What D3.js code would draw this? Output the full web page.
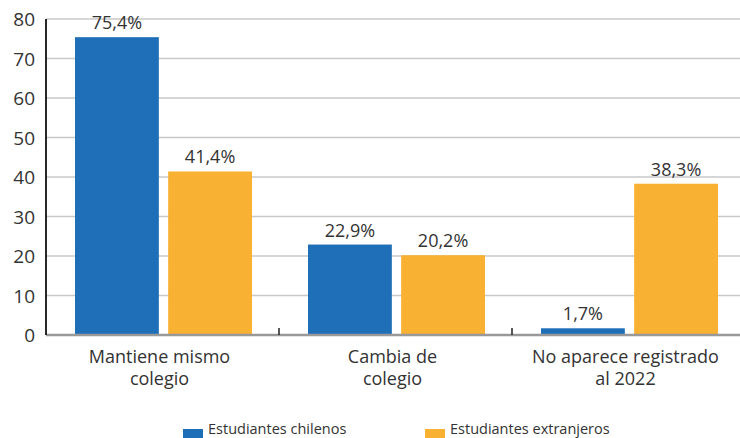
<!DOCTYPE html>
<html>
<head>
<meta charset="utf-8">
<script src="https://cdn.jsdelivr.net/npm/d3@7"></script>
<style>
	body { margin: 0; background: white; }
	svg { display: block; font-family: "Open Sans", Lato, sans-serif; }
</style>
</head>
<body>
<div id="chart"></div>
<script>

let w = 740;
let h = 438;

// data
let categories = [["Mantiene mismo", "colegio"], ["Cambia de", "colegio"], ["No aparece registrado", "al 2022"]];
let seriesNames = ["Estudiantes chilenos", "Estudiantes extranjeros"];
let chilenos = [75.4, 22.9, 1.7];
let extranjeros = [41.4, 20.2, 38.3];
let yTicks = [0, 10, 20, 30, 40, 50, 60, 70, 80];
let colors = ["#1f6fb8", "#f8b133"];

let plotLeft = 46, plotRight = 745, plotTop = 19, plotBottom = 335;

let viz = d3.select("#chart").append("svg")
	.attr("width", w)
	.attr("height", h);

let xScale = d3.scaleBand().domain(d3.range(categories.length)).range([plotLeft, plotRight]);
let inner = d3.scaleBand().domain([0, 1]).range([29, 206]).paddingInner(0.1);
let yScale = d3.scaleLinear().domain([0, 80]).range([plotBottom, plotTop]);

// gridlines
viz.append("g")
	.selectAll("line")
	.data(yTicks.filter(d => d > 0))
	.join("line")
	.attr("x1", plotLeft)
	.attr("x2", w)
	.attr("y1", d => yScale(d))
	.attr("y2", d => yScale(d))
	.attr("stroke", "#c8c8c8")
	.attr("stroke-width", 1.5);

// y labels
viz.append("g")
	.selectAll("text")
	.data(yTicks)
	.join("text")
	.attr("x", 35)
	.attr("y", d => yScale(d) + 7)
	.attr("text-anchor", "end")
	.attr("font-size", 19)
	.attr("fill", "#333")
	.text(d => d);

let rows = categories.map((c, i) => [chilenos[i], extranjeros[i]]);

let groups = viz.append("g")
	.selectAll("g")
	.data(rows)
	.join("g")
	.attr("transform", (d, i) => "translate(" + xScale(i) + ",0)");

groups.selectAll("rect")
	.data(d => d)
	.join("rect")
	.attr("x", (d, j) => inner(j))
	.attr("width", inner.bandwidth())
	.attr("y", d => yScale(d))
	.attr("height", d => yScale(0) - yScale(d))
	.attr("fill", (d, j) => colors[j]);

groups.selectAll("text")
	.data(d => d)
	.join("text")
	.attr("x", (d, j) => inner(j) + inner.bandwidth() / 2)
	.attr("y", d => yScale(d) - 8)
	.attr("text-anchor", "middle")
	.attr("font-size", 18)
	.attr("fill", "#333")
	.text(d => d.toFixed(1).replace(".", ",") + "%");

// baseline and axis
viz.append("line")
	.attr("x1", plotLeft).attr("x2", w)
	.attr("y1", plotBottom).attr("y2", plotBottom)
	.attr("stroke", "#999")
	.attr("stroke-width", 2.5);

viz.append("g")
	.selectAll("line")
	.data(d3.range(1, categories.length))
	.join("line")
	.attr("x1", d => xScale(d))
	.attr("x2", d => xScale(d))
	.attr("y1", plotBottom - 7)
	.attr("y2", plotBottom)
	.attr("stroke", "#222")
	.attr("stroke-width", 1.5);

viz.append("line")
	.attr("x1", plotLeft).attr("x2", plotLeft)
	.attr("y1", plotTop).attr("y2", plotBottom)
	.attr("stroke", "#111")
	.attr("stroke-width", 1.8);

// category labels
let catText = viz.append("g")
	.selectAll("text")
	.data(categories)
	.join("text")
	.attr("x", (d, i) => xScale(i) + xScale.bandwidth() / 2 - 3)
	.attr("y", 363)
	.attr("text-anchor", "middle")
	.attr("font-size", 18)
	.attr("fill", "#333");

catText.selectAll("tspan")
	.data(d => d)
	.join("tspan")
	.attr("x", function() { return this.parentNode.getAttribute("x"); })
	.attr("dy", (d, k) => k === 0 ? 0 : 22)
	.text(d => d);

// legend
let legendX = [183, 425];
let legend = viz.append("g")
	.selectAll("g")
	.data(seriesNames)
	.join("g")
	.attr("transform", (d, i) => "translate(" + legendX[i] + ",429)");

legend.append("rect")
	.attr("width", 20)
	.attr("height", 20)
	.attr("fill", (d, i) => colors[i]);

legend.append("text")
	.attr("x", 25)
	.attr("y", 5)
	.attr("font-size", 14.5)
	.attr("fill", "#333")
	.text(d => d);

</script>
</body>
</html>
